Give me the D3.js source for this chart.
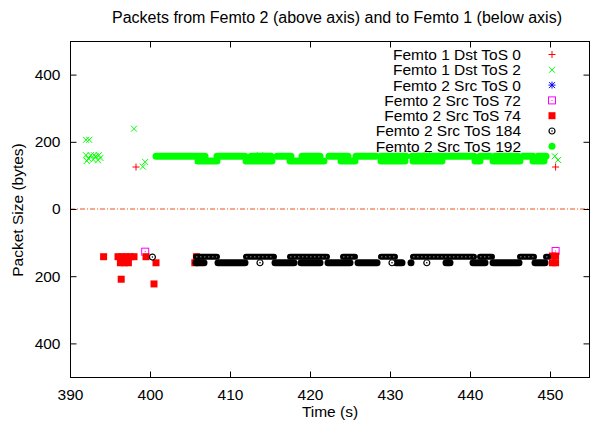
<!DOCTYPE html>
<html><head><meta charset="utf-8">
<script src="https://cdn.jsdelivr.net/npm/d3@7/dist/d3.min.js"></script>
<style>
body{margin:0;background:#fff;}
svg{display:block;font-family:"Liberation Sans",Arial,Helvetica,sans-serif;}
</style></head><body>
<svg id="chart" width="592" height="423"></svg>
<script>
// ---------------- data ----------------
const chartTitle = "Packets from Femto 2 (above axis) and to Femto 1 (below axis)";
const xLabel = "Time (s)";
const yLabel = "Packet Size (bytes)";
const xTicks = [390, 400, 410, 420, 430, 440, 450];
const yTicks = [-400, -200, 0, 200, 400];
const seriesNames = ["Femto 1 Dst ToS 0", "Femto 1 Dst ToS 2", "Femto 2 Src ToS 0",
  "Femto 2 Src ToS 72", "Femto 2 Src ToS 74", "Femto 2 Src ToS 184", "Femto 2 Src ToS 192"];

// individual packets: [time (s), size (bytes); negative = below axis]
const femto1DstTos0 = [[398.25, 125], [450.7, 125]];
const femto1DstTos2 = [[392.0, 206], [392.4, 206], [392.0, 160], [392.3, 150], [392.6, 160],
  [392.1, 143], [392.9, 147], [393.2, 157], [393.5, 145], [393.8, 152], [393.0, 160], [393.6, 160],
  [398.0, 239], [399.1, 126], [399.4, 140], [406.0, 143], [413.75, 160], [434.6, 160],
  [450.6, 157], [451.0, 146]];
const femto2SrcTos0 = [];
const femto2SrcTos72 = [[399.4, -127], [450.7, -125]];
const femto2SrcTos74 = [[394.2, -142], [396.0, -142], [396.5, -142], [397.0, -142], [397.5, -142],
  [398.0, -142], [396.3, -160], [396.8, -160], [397.3, -160], [399.5, -142], [400.75, -160],
  [396.4, -209], [400.5, -223], [405.8, -142], [405.6, -160],
  [450.3, -140], [450.7, -140], [450.3, -160], [450.7, -160]];
const femto2SrcTos184 = [[400.3, -143], [413.75, -160], [434.6, -160], [430.25, -160]];

// dense bursts of packets: [first time, last time, size]
const tos184BurstsUpper = [[405.75, 408.375, -142], [412.0, 415.5, -142], [417.5, 422.125, -142],
  [424.125, 425.625, -142], [428.875, 430.625, -142], [432.875, 440.5, -142],
  [441.25, 442.75, -142], [446.25, 448.0, -142], [449.5, 449.75, -142]];
const tos184BurstsLower = [[405.75, 406.75, -160], [408.5, 411.875, -160], [415.625, 418.0, -160],
  [418.875, 421.25, -160], [422.25, 425.0, -160], [426.0, 428.375, -160], [430.75, 431.5, -160],
  [432.625, 432.625, -160], [437.0, 437.5, -160], [440.375, 441.875, -160],
  [442.875, 446.125, -160], [448.125, 449.375, -160]];
const tos192BurstsUpper = [[400.75, 406.875, 157], [408.375, 411.875, 157], [412.625, 415.125, 157],
  [415.875, 417.625, 157], [419.0, 421.25, 157], [422.375, 424.75, 157], [425.75, 428.25, 157],
  [428.875, 432.0, 157], [432.75, 440.5, 157], [441.25, 442.5, 157], [443.125, 446.0, 157],
  [446.625, 447.875, 157], [448.5, 449.5, 157]];
const tos192BurstsLower = [[406.0, 408.375, 143], [412.0, 415.25, 143], [417.5, 421.75, 143],
  [423.875, 425.625, 143], [428.875, 431.875, 143], [432.875, 436.5, 143], [440.625, 441.25, 143],
  [442.875, 446.25, 143], [447.875, 449.25, 143]];

// ---------------- styles ----------------
const seriesColors = ["#ff0000", "#00ff00", "#0000ff", "#ff00ff", "#ff0000", "#000000", "#00ff00"];

// ---------------- layout ----------------
const W = 592, H = 423;
const m = {left: 70, right: 2, top: 41, bottom: 46};
const svg = d3.select("#chart");
const x = d3.scaleLinear().domain([390, 455]).range([m.left, W - m.right]);
const y = d3.scaleLinear().domain([-500, 500]).range([H - m.bottom, m.top]);

// zero line
svg.append("line")
  .attr("x1", x(390)).attr("x2", x(455)).attr("y1", y(0)).attr("y2", y(0))
  .attr("stroke", "#f0501a").attr("stroke-width", 1).attr("stroke-dasharray", "5,2,1,2");

// marker shapes
function marker(g, i, color) {
  if (i === 0) {
    g.append("path").attr("d", "M-3.5,0H3.5M0,-3.5V3.5").attr("stroke", color).attr("fill", "none");
  } else if (i === 1) {
    g.append("path").attr("d", "M-3,-3L3,3M-3,3L3,-3").attr("stroke", color).attr("fill", "none");
  } else if (i === 2) {
    g.append("path").attr("d", "M-3.5,0H3.5M0,-3.5V3.5M-3,-3L3,3M-3,3L3,-3").attr("stroke", color).attr("fill", "none");
  } else if (i === 3) {
    g.append("rect").attr("x", -3.5).attr("y", -3.5).attr("width", 7).attr("height", 7)
      .attr("fill", "none").attr("stroke", color);
    g.append("rect").attr("x", -0.5).attr("y", -0.5).attr("width", 1).attr("height", 1).attr("fill", color);
  } else if (i === 4) {
    g.append("rect").attr("x", -3.5).attr("y", -3.5).attr("width", 7).attr("height", 7).attr("fill", color);
  } else if (i === 5) {
    g.append("circle").attr("r", 3).attr("fill", "none").attr("stroke", color).attr("stroke-width", 1.2);
    g.append("circle").attr("r", 0.8).attr("fill", color);
  } else {
    g.append("circle").attr("r", 3.5).attr("fill", color);
  }
}

function drawPoints(data, i) {
  const g = svg.append("g");
  data.forEach(d => {
    const p = g.append("g").attr("transform", `translate(${x(d[0])},${y(d[1])})`);
    marker(p, i, seriesColors[i]);
  });
}

function drawBursts(data, color, width) {
  svg.append("g").selectAll("line").data(data).join("line")
    .attr("x1", d => x(d[0])).attr("x2", d => x(d[1]))
    .attr("y1", d => y(d[2])).attr("y2", d => y(d[2]))
    .attr("stroke", color).attr("stroke-width", width).attr("stroke-linecap", "round");
}

drawPoints(femto1DstTos0, 0);
drawPoints(femto1DstTos2, 1);
drawPoints(femto2SrcTos0, 2);
drawPoints(femto2SrcTos72, 3);
drawPoints(femto2SrcTos74, 4);
// ToS 184
drawBursts(tos184BurstsLower, "#000", 7);
drawBursts(tos184BurstsUpper, "#000", 6);
svg.append("g").selectAll("line").data(tos184BurstsUpper).join("line")
  .attr("x1", d => x(d[0])).attr("x2", d => x(d[1]))
  .attr("y1", d => y(d[2])).attr("y2", d => y(d[2]))
  .attr("stroke", "#5a5a5a").attr("stroke-width", 1.5).attr("stroke-dasharray", "1.5,2.5");
femto2SrcTos184.forEach(d => {
  const p = svg.append("g").attr("transform", `translate(${x(d[0])},${y(d[1])})`);
  p.append("circle").attr("r", 3).attr("fill", "#fff");
  marker(p, 5, seriesColors[5]);
});
// ToS 192
drawBursts(tos192BurstsLower, seriesColors[6], 7);
drawBursts(tos192BurstsUpper, seriesColors[6], 7);

// frame
svg.append("rect").attr("x", m.left + 0.5).attr("y", m.top + 0.5)
  .attr("width", W - m.right - m.left - 1).attr("height", H - m.bottom - m.top)
  .attr("fill", "none").attr("stroke", "#000");

// axes
const fs = "15.5px";
const axL = svg.append("g").attr("transform", `translate(${m.left + 0.5},0)`)
  .call(d3.axisLeft(y).tickValues(yTicks).tickFormat(d => Math.abs(d)).tickSizeInner(-6).tickSizeOuter(0).tickPadding(10));
const axR = svg.append("g").attr("transform", `translate(${W - m.right - 0.5},0)`)
  .call(d3.axisRight(y).tickValues(yTicks).tickFormat("").tickSizeInner(-6).tickSizeOuter(0));
const axB = svg.append("g").attr("transform", `translate(0,${H - m.bottom + 0.5})`)
  .call(d3.axisBottom(x).tickValues(xTicks).tickFormat(d3.format("d")).tickSizeInner(-6).tickSizeOuter(0).tickPadding(11));
const axT = svg.append("g").attr("transform", `translate(0,${m.top + 0.5})`)
  .call(d3.axisTop(x).tickValues(xTicks).tickFormat("").tickSizeInner(-6).tickSizeOuter(0));
[axL, axR, axB, axT].forEach(a => {
  a.select(".domain").remove();
  a.selectAll("text").attr("font-size", fs).attr("fill", "#000").attr("font-family", null);
  a.selectAll("line").attr("stroke", "#000");
});

// titles
svg.append("text").attr("x", 337).attr("y", 23).attr("text-anchor", "middle")
  .attr("font-size", "16px").text(chartTitle);
svg.append("text").attr("x", 330).attr("y", 417).attr("text-anchor", "middle")
  .attr("font-size", fs).text(xLabel);
svg.append("text").attr("transform", "translate(23,210) rotate(-90)").attr("text-anchor", "middle")
  .attr("font-size", fs).text(yLabel);

// legend
const lg = svg.append("g");
seriesNames.forEach((name, i) => {
  const yy = 54.5 + 15.3 * i;
  lg.append("text").attr("x", 521).attr("y", yy).attr("dy", "0.35em")
    .attr("text-anchor", "end").attr("font-size", fs).text(name);
  const p = lg.append("g").attr("transform", `translate(552,${yy})`);
  marker(p, i, seriesColors[i]);
});
</script>
</body></html>
